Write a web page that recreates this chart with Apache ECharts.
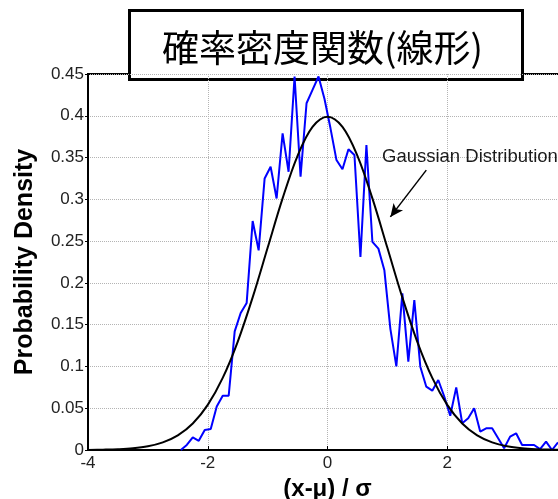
<!DOCTYPE html>
<html>
<head>
<meta charset="utf-8">
<title>確率密度関数(線形)</title>
<script src="https://cdn.jsdelivr.net/npm/echarts/dist/echarts.min.js"></script>
<style>
	html, body { margin: 0; padding: 0; background: #fff; }
	#chart { width: 558px; height: 499px; }
</style>
</head>
<body>
<div id="chart"></div>
<script>
// measured histogram (bin centres, step 0.1)
const binX = [
	-2.45, -2.35, -2.25, -2.15, -2.05, -1.95, -1.85, -1.75, -1.65, -1.55,
	-1.45, -1.35, -1.25, -1.15, -1.05, -0.95, -0.85, -0.75, -0.65, -0.55,
	-0.45, -0.35, -0.25, -0.15, -0.05, 0.05, 0.15, 0.25, 0.35, 0.45,
	0.55, 0.65, 0.75, 0.85, 0.95, 1.05, 1.15, 1.25, 1.35, 1.45,
	1.55, 1.65, 1.75, 1.85, 1.95, 2.05, 2.15, 2.25, 2.35, 2.45,
	2.55, 2.65, 2.75, 2.85, 2.95, 3.05, 3.15, 3.25, 3.35, 3.45,
	3.55, 3.65, 3.75, 3.85,
];
const binDensity = [
	0, 0.006, 0.015, 0.011, 0.024, 0.025, 0.052, 0.065, 0.065, 0.142,
	0.164, 0.176, 0.274, 0.239, 0.325, 0.339, 0.301, 0.379, 0.333, 0.447,
	0.327, 0.415, 0.431, 0.447, 0.42, 0.385, 0.347, 0.336, 0.36, 0.353,
	0.231, 0.365, 0.249, 0.241, 0.215, 0.145, 0.1, 0.1875, 0.1057, 0.1795,
	0.0997, 0.0758, 0.071, 0.0838, 0.064, 0.041, 0.075, 0.032, 0.038, 0.05,
	0.022, 0.026, 0.026, 0.014, 0.002, 0.016, 0.02, 0.006, 0.006, 0.006,
	0.001, 0.01, 0, 0.009,
];

// gaussian curve
const gaussX = [
	-4, -3.75, -3.5, -3.25, -3, -2.75, -2.5, -2.25, -2, -1.75, -1.5, -1.25, -1, -0.75, -0.5, -0.25,
	0, 0.25, 0.5, 0.75, 1, 1.25, 1.5, 1.75, 2, 2.25, 2.5, 2.75, 3, 3.25, 3.5, 3.75, 4,
];
const gaussY = [
	0.0001, 0.0004, 0.0009, 0.002, 0.0044, 0.0091, 0.0175, 0.0317, 0.054, 0.0863, 0.1295, 0.1826, 0.242, 0.3011, 0.3521, 0.3867,
	0.3989, 0.3867, 0.3521, 0.3011, 0.242, 0.1826, 0.1295, 0.0863, 0.054, 0.0317, 0.0175, 0.0091, 0.0044, 0.002, 0.0009, 0.0004, 0.0001,
];

const titleText = "確率密度関数(線形)";
const noteText = "Gaussian Distribution";
const arrowFrom = [1.65, 0.335];
const arrowTo = [1.05, 0.279];

const font = "'Liberation Sans', Arial, sans-serif";
const chart = echarts.init(document.getElementById("chart"), null, { renderer: "canvas" });

chart.setOption({
	animation : false,
	grid      : {
		left            : 88,
		top             : 74,
		right           : -9,
		bottom          : 49,
		containLabel    : false,
		outerBoundsMode : "none",
		show            : true,
		borderColor     : "#000",
		borderWidth     : 2,
		backgroundColor : "#fff",
	},
	xAxis: {
		type         : "value",
		min          : -4,
		max          : 4,
		interval     : 2,
		name         : "(x-μ) / σ",
		nameLocation : "middle",
		nameGap      : 22,
		nameTextStyle: {
			fontFamily : font,
			fontWeight : "bold",
			fontSize   : 24,
			color      : "#000",
		},
		axisLine  : { onZero: false, lineStyle: { color: "#000", width: 2 } },
		axisTick  : { inside: true, length: 4, lineStyle: { color: "#000" } },
		axisLabel : { fontFamily: font, fontSize: 17, color: "#222", margin: 5 },
		splitLine : { show: true, lineStyle: { type: "dotted", color: "#b4b4b4", width: 1 } },
	},
	yAxis: {
		type         : "value",
		min          : 0,
		max          : 0.45,
		interval     : 0.05,
		name         : "Probability Density",
		nameLocation : "middle",
		nameGap      : 50,
		nameTextStyle: {
			fontFamily : font,
			fontWeight : "bold",
			fontSize   : 25,
			color      : "#000",
		},
		axisLine  : { onZero: false, lineStyle: { color: "#000", width: 2 } },
		axisTick  : { inside: false, length: 3, lineStyle: { color: "#000" } },
		axisLabel : { fontFamily: font, fontSize: 17, color: "#222", margin: 4 },
		splitLine : { show: true, lineStyle: { type: "dotted", color: "#b4b4b4", width: 1 } },
	},
	series: [
		{
			type       : "line",
			data       : binX.map((x, i) => [x, binDensity[i]]),
			showSymbol : false,
			lineStyle  : { color: "#0000ff", width: 2 },
			itemStyle  : { color: "#0000ff" },
			z          : 2,
		},
		{
			type       : "line",
			data       : gaussX.map((x, i) => [x, gaussY[i]]),
			showSymbol : false,
			smooth     : 0.35,
			lineStyle  : { color: "#000", width: 2 },
			itemStyle  : { color: "#000" },
			z          : 3,
			markLine   : {
				silent     : true,
				symbol     : ["none", "arrow"],
				symbolSize : [9, 13],
				label      : { show: false },
				lineStyle  : { color: "#000", width: 1.5, type: "solid" },
				data       : [[{ coord: arrowFrom }, { coord: arrowTo }]],
			},
		},
	],
	graphic: [
		{
			type  : "text",
			left  : 382,
			top   : 147,
			z     : 50,
			style : {
				text       : noteText,
				fontFamily : font,
				fontSize   : 18.5,
				fill       : "#1a1a1a",
			},
		},
		{
			type     : "group",
			left     : 128,
			top      : 9,
			z        : 100,
			children : [
				{
					type  : "rect",
					shape : { x: 0, y: 0, width: 393, height: 69 },
					style : { fill: "#fff", stroke: "#000", lineWidth: 3 },
				},
				{
					type  : "text",
					x     : 193,
					y     : 37,
					style : {
						text          : titleText,
						fontFamily    : "'Noto Sans CJK JP', sans-serif",
						fontSize      : 37,
						fill          : "#000",
						align         : "center",
						verticalAlign : "middle",
					},
				},
			],
		},
	],
});
</script>
</body>
</html>
